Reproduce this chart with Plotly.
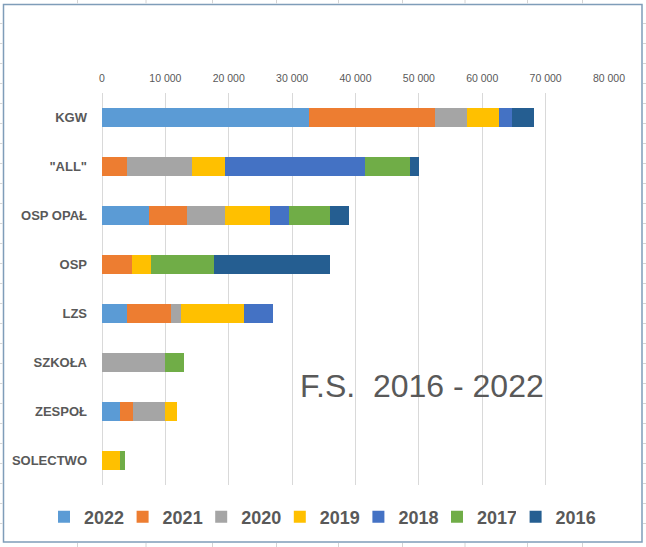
import plotly.graph_objects as go

categories = ["KGW", "\"ALL\"", "OSP OPAŁ", "OSP", "LZS", "SZKOŁA", "ZESPOŁ", "SOLECTWO"]
years = ["2022", "2021", "2020", "2019", "2018", "2017", "2016"]

v2022 = [32600, 0, 7400, 0, 3900, 0, 2850, 0]
v2021 = [19900, 4000, 6000, 4700, 7000, 0, 2100, 0]
v2020 = [5100, 10250, 6000, 0, 1550, 9900, 5000, 0]
v2019 = [5100, 5200, 7100, 3050, 9900, 0, 1950, 2850]
v2018 = [2000, 22100, 3000, 0, 4700, 0, 0, 0]
v2017 = [0, 7100, 6500, 9900, 0, 3050, 0, 800]
v2016 = [3500, 1400, 3000, 18300, 0, 0, 0, 0]

series = [v2022, v2021, v2020, v2019, v2018, v2017, v2016]
colors = ["#5B9BD5", "#ED7D31", "#A5A5A5", "#FFC000", "#4472C4", "#70AD47", "#255E91"]

fig = go.Figure()
for i, (name, vals, col) in enumerate(zip(years, series, colors)):
    fig.add_trace(go.Bar(
        y=categories, x=vals, name=name, orientation="h",
        marker=dict(color=col, line=dict(width=0)),
        legend="legend2" if i == len(years) - 1 else "legend",
    ))

L, R, T, B = 102, 37, 93, 62
W, H = 646, 547
pw, ph = W - L - R, H - T - B

def px(x):
    return (x - L) / pw

def py(y):
    return 1 - (y - T) / ph

legend_font = dict(size=18, color="#595959", weight="bold")

shapes = [dict(
    type="rect", xref="paper", yref="paper",
    x0=px(3.5), x1=px(642), y0=py(542), y1=py(4.5),
    line=dict(color="#7F9DB9", width=1.5), fillcolor="rgba(0,0,0,0)", layer="below",
)]
# spreadsheet cell lines visible around the chart frame
grid_col = "#D4D4D4"
for cx in [77.5, 146, 212.5, 276.5, 338.5, 402.5, 465, 527.5, 582.5]:
    shapes.append(dict(type="line", xref="paper", yref="paper",
                       x0=px(cx), x1=px(cx), y0=py(0), y1=py(3.5),
                       line=dict(color=grid_col, width=1), layer="below"))
    shapes.append(dict(type="line", xref="paper", yref="paper",
                       x0=px(cx), x1=px(cx), y0=py(543), y1=py(547),
                       line=dict(color=grid_col, width=1), layer="below"))
for ry in range(23, 540, 20):
    shapes.append(dict(type="line", xref="paper", yref="paper",
                       x0=px(0), x1=px(2.5), y0=py(ry + 0.5), y1=py(ry + 0.5),
                       line=dict(color=grid_col, width=1), layer="below"))
    shapes.append(dict(type="line", xref="paper", yref="paper",
                       x0=px(643), x1=px(646), y0=py(ry + 0.5), y1=py(ry + 0.5),
                       line=dict(color=grid_col, width=1), layer="below"))

fig.update_layout(
    width=W, height=H,
    margin=dict(l=L, r=R, t=T, b=B, pad=0, autoexpand=False),
    barmode="stack",
    bargap=0.61,
    paper_bgcolor="white",
    plot_bgcolor="white",
    separators=". ",
    font=dict(family="Liberation Sans, Arial, sans-serif", color="#595959"),
    xaxis=dict(
        side="top", range=[0, 80000], dtick=10000, tickformat=",d",
        showgrid=True, gridcolor="#D9D9D9", gridwidth=1,
        zeroline=True, zerolinecolor="#D9D9D9", zerolinewidth=1,
        showline=False, ticks="", tickfont=dict(size=10.5, color="#595959"),
        ticklabelstandoff=8, fixedrange=True, automargin=False,
    ),
    yaxis=dict(
        categoryorder="array", categoryarray=categories, autorange="reversed",
        showgrid=False, zeroline=False, showline=False, ticks="",
        tickfont=dict(size=13, color="#595959", family="Liberation Sans, Arial, sans-serif", weight="bold"),
        ticklabelstandoff=14, automargin=False,
    ),
    legend=dict(
        orientation="h", x=px(44), xanchor="left", y=py(517), yanchor="middle",
        font=legend_font, traceorder="normal",
        itemwidth=30, entrywidth=33.6, entrywidthmode="pixels",
    ),
    legend2=dict(
        orientation="h", x=px(44 + 6 * 78.6), xanchor="left", y=py(517), yanchor="middle",
        font=legend_font, traceorder="normal", itemwidth=30,
    ),
    showlegend=True,
    annotations=[dict(
        text="F.S.  2016 - 2022", xref="paper", yref="paper",
        x=px(422), y=py(386), xanchor="center", yanchor="middle",
        showarrow=False, font=dict(size=32, color="#595959"),
    )],
    shapes=shapes,
)

fig.write_html("out.html", config={"displayModeBar": False},
               post_script="document.body.style.margin='0';document.body.style.overflow='hidden';")
